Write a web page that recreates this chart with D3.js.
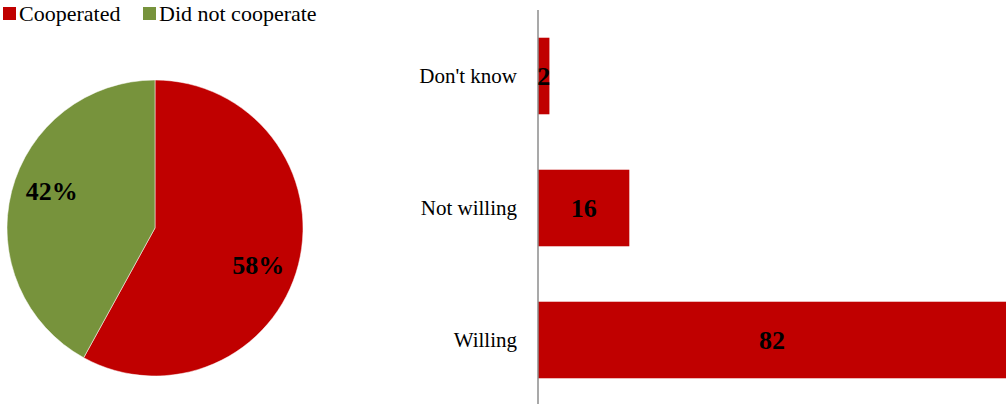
<!DOCTYPE html>
<html>
<head>
<meta charset="utf-8">
<script src="https://cdn.jsdelivr.net/npm/d3@7"></script>
<style>
  body { margin: 0; background: #fff; }
  svg { display: block; font-family: "Liberation Serif", "Times New Roman", serif; }
</style>
</head>
<body>
<div id="chart"></div>
<script>
// Pie data
const pieLabels = ["Cooperated", "Did not cooperate"];
const pieValues = [58, 42];
const pieColors = ["#c00000", "#77933c"];

// Bar data
const barCategories = ["Don't know", "Not willing", "Willing"];
const barValues = [2, 16, 82];

const W = 1006, H = 404;

const svg = d3.select("#chart")
    .append("svg")
    .attr("width", W)
    .attr("height", H);

// Legend
const legendX = [3, 143];
pieLabels.forEach((l, i) => {
    const g = svg.append("g").attr("transform", `translate(${legendX[i]},0)`);
    g.append("rect")
        .attr("x", 0).attr("y", 7)
        .attr("width", 13).attr("height", 13)
        .attr("fill", pieColors[i]);
    g.append("text")
        .attr("x", 16).attr("y", 21)
        .attr("font-size", 22)
        .attr("fill", "#000")
        .text(l);
});

// Pie
const r = 148;
const pieG = svg.append("g").attr("transform", "translate(155,228)");
const pie = d3.pie().sort(null).value(d => d)(pieValues);
const arc = d3.arc().innerRadius(0).outerRadius(r);

pieG.selectAll("path")
    .data(pie)
    .join("path")
    .attr("d", arc)
    .attr("fill", (d, i) => pieColors[i])
    .attr("stroke", "#fff")
    .attr("stroke-width", 0.5);

// labels sit a little clockwise of the slice middle
const labelPos = d => {
    const a = (d.startAngle + d.endAngle) / 2 + 0.09;
    return [Math.sin(a) * r * 0.74, -Math.cos(a) * r * 0.74];
};

pieG.selectAll("text")
    .data(pie)
    .join("text")
    .attr("transform", d => `translate(${labelPos(d)})`)
    .attr("text-anchor", "middle")
    .attr("dy", "0.35em")
    .attr("font-size", 26)
    .attr("font-weight", "bold")
    .text(d => d.data + "%");

// Bar chart
const x = d3.scaleLinear()
    .domain([0, 82])
    .range([538, 1006]);

const y = d3.scaleBand()
    .domain(barCategories)
    .range([10, 406])
    .paddingInner(0.42)
    .paddingOuter(0.21);

svg.selectAll(".bar")
    .data(barValues)
    .join("rect")
    .attr("class", "bar")
    .attr("x", x(0))
    .attr("y", (d, i) => y(barCategories[i]))
    .attr("width", d => x(d) - x(0))
    .attr("height", y.bandwidth())
    .attr("fill", "#c00000");

// Axis line
svg.append("line")
    .attr("x1", x(0)).attr("x2", x(0))
    .attr("y1", 10).attr("y2", H)
    .attr("stroke", "#8c8c8c")
    .attr("stroke-width", 1.5);

// Category labels
svg.selectAll(".cat")
    .data(barCategories)
    .join("text")
    .attr("class", "cat")
    .attr("x", 517)
    .attr("y", d => y(d) + y.bandwidth() / 2)
    .attr("dy", "0.35em")
    .attr("text-anchor", "end")
    .attr("font-size", 21)
    .text(d => d);

// Value labels
svg.selectAll(".val")
    .data(barValues)
    .join("text")
    .attr("class", "val")
    .attr("x", d => (x(0) + x(d)) / 2)
    .attr("y", (d, i) => y(barCategories[i]) + y.bandwidth() / 2)
    .attr("dy", "0.35em")
    .attr("text-anchor", "middle")
    .attr("font-size", 26)
    .attr("font-weight", "bold")
    .text(d => d);
</script>
</body>
</html>
